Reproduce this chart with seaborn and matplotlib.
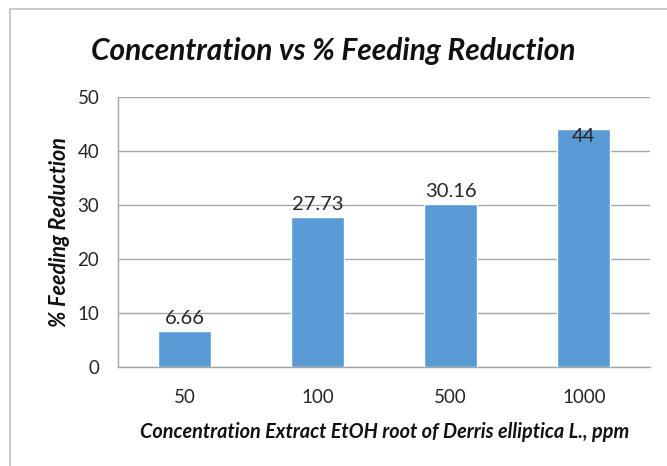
import matplotlib
matplotlib.use('Agg')
import matplotlib.pyplot as plt
import seaborn as sns
import pandas as pd
from matplotlib.patches import Rectangle

# values
concentrations = ['50', '100', '500', '1000']
feeding_reduction = [6.66, 27.73, 30.16, 44]
bar_labels = ['6.66', '27.73', '30.16', '44']

df = pd.DataFrame({'Concentration': concentrations, 'Reduction': feeding_reduction})

sns.set_style('white')
plt.rcParams['font.family'] = ['Lato', 'DejaVu Sans']

fig = plt.figure(figsize=(6.67, 4.66), dpi=100)
ax = fig.add_axes([0.177, 0.2124, 0.798, 0.5794])

sns.barplot(data=df, x='Concentration', y='Reduction', color='#5B9BD5',
            saturation=1, width=0.4, ax=ax, zorder=3)

# outer chart frame (the picture is cropped so only left and top show)
fig.patches.append(Rectangle((0.015, -0.05), 1.2, 1.03, transform=fig.transFigure,
                             fill=False, edgecolor='#BFBFBF', linewidth=1.2))

ax.set_ylim(0, 50)
ax.set_xlim(-0.5, 3.5)
ax.set_yticks([0, 10, 20, 30, 40, 50])
ax.yaxis.grid(True, color='#A6A6A6', linewidth=1, zorder=0)
ax.set_axisbelow(True)

for s in ['top', 'right']:
    ax.spines[s].set_visible(False)
for s in ['left', 'bottom']:
    ax.spines[s].set_color('#A6A6A6')
    ax.spines[s].set_linewidth(1)

ax.tick_params(axis='y', which='major', length=4.5, width=1, color='#A6A6A6',
               labelsize=13.5, pad=9, labelcolor='#262626')
ax.tick_params(axis='x', which='major', length=0, labelsize=13.5, pad=16,
               labelcolor='#262626')
ax.set_xticks([-0.5, 0.5, 1.5, 2.5, 3.5], minor=True)
ax.tick_params(axis='x', which='minor', length=5, width=1, color='#A6A6A6')

# data labels
for i, (v, lab) in enumerate(zip(feeding_reduction, bar_labels)):
    if v + 8 > 50:
        ax.text(i, v + 0.3, lab, ha='center', va='top', fontsize=14.5, color='#262626')
    else:
        ax.annotate(lab, (i, v), xytext=(0, 3), textcoords='offset points',
                    ha='center', va='bottom', fontsize=14.5, color='#262626')

fig.text(0.5, 0.89, 'Concentration vs % Feeding Reduction', fontsize=21.5,
         fontweight='bold', style='italic', ha='center', va='center', color='#111111')
ax.set_xlabel('Concentration Extract EtOH root of Derris elliptica L., ppm',
              fontsize=14.3, fontweight='bold', style='italic', labelpad=11,
              color='#111111')
ax.set_ylabel('% Feeding Reduction', fontsize=15.5, fontweight='bold',
              style='italic', labelpad=5, color='#111111')

fig.savefig('out.png', dpi=100)
